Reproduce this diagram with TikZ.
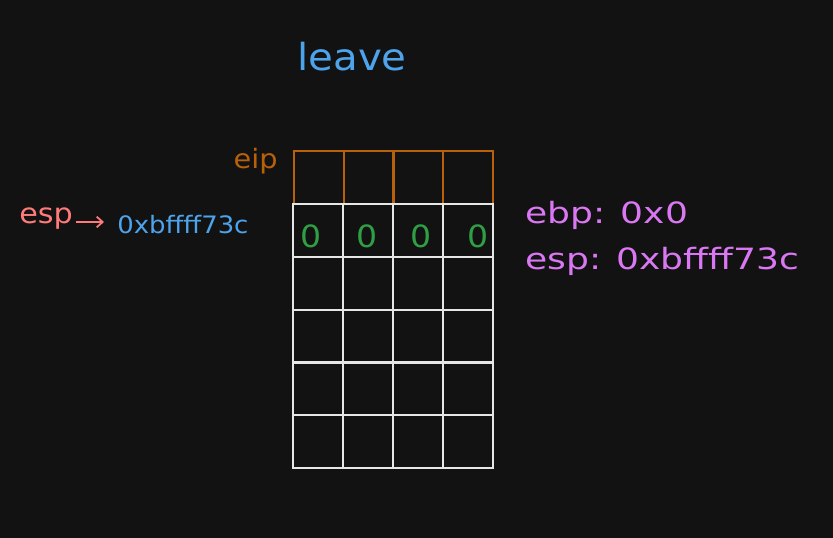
\documentclass[tikz,border=0pt]{standalone}
\usepackage{fontspec}
\setmainfont{DejaVu Sans}
\newfontfamily\hand[FakeStretch=1.08]{DejaVu Sans}
\newfontfamily\handw[FakeStretch=1.23]{DejaVu Sans}
\definecolor{bg}{HTML}{121212}
\definecolor{orng}{HTML}{B8600A}
\definecolor{grn}{HTML}{2F9E44}
\definecolor{blu}{HTML}{4DA3EC}
\definecolor{pnk}{HTML}{DA77F2}
\definecolor{rd}{HTML}{FF7B7B}
\definecolor{cellw}{HTML}{E6E6E6}
\usetikzlibrary{arrows.meta}
\tikzset{
  eipcell/.style={draw=orng, line width=1.8pt, minimum width=37.5pt, minimum height=39.75pt, inner sep=0pt, anchor=north west},
  memcell/.style={draw=cellw, line width=1.8pt, minimum width=37.5pt, minimum height=39.75pt, inner sep=0pt, anchor=north west},
  zero/.style={text=grn, font=\hand\fontsize{23}{25}\selectfont, inner sep=0pt},
  lbl/.style={inner sep=0pt, anchor=west}
}
\begin{document}
\begin{tikzpicture}[x=0.75pt,y=-0.75pt]
\fill[bg] (0,0) rectangle (833,538);
\useasboundingbox (0,0) rectangle (833,538);
\node[text=blu, font=\hand\fontsize{28}{30}\selectfont, inner sep=0pt] (title) at (352,57) {leave};
% eip row
\foreach \i/\x in {1/293,2/343,3/392,4/442}{
  \node[eipcell] (e\i) at (\x,150) {};
}
% memory rows
\foreach \r/\y in {1/203,2/256,3/309,4/361,5/414}{
  \foreach \i/\x in {1/292,2/342,3/392,4/442}{
    \node[memcell] (m\r\i) at (\x,\y) {};
  }
}
\foreach \i/\x in {1/311,2/367,3/421,4/478}{
  \node[zero] (z\i) at (\x,236) {0};
}
\node[text=orng, font=\hand\fontsize{20}{22}\selectfont, anchor=east, inner sep=0pt] (eip) at (278,161) {eip};
\node[text=rd, font=\hand\fontsize{21}{23}\selectfont, lbl] (esp) at (19,219) {esp};
\node[text=blu, font=\hand\fontsize{18}{20}\selectfont, lbl] (addr) at (117,225) {0xbffff73c};
\coordinate (a0) at (76,222);
\coordinate (a1) at (104,222);
\draw[rd, line width=1.3pt, -{Straight Barb[length=4.5pt,width=8pt]}] (a0) -- (a1);
\node[text=pnk, font=\handw\fontsize{22}{26}\selectfont, lbl] (ebp) at (525,215) {ebp: 0x0};
\node[text=pnk, font=\handw\fontsize{22}{26}\selectfont, lbl] (esp2) at (525,261) {esp: 0xbffff73c};
\end{tikzpicture}
\end{document}
